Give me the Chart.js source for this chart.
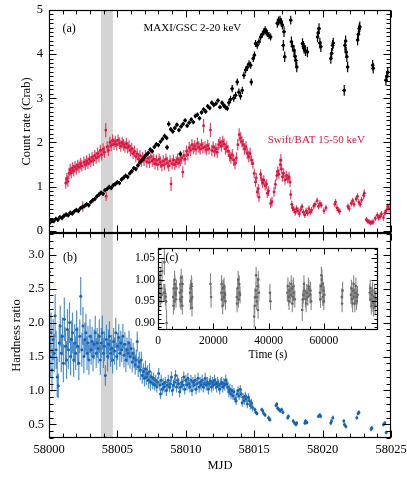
<!DOCTYPE html>
<html lang="en">
<head>
<meta charset="UTF-8">
<title>MAXI / Swift light curve and hardness ratio</title>
<script src="https://cdn.jsdelivr.net/npm/chart.js"></script>
<style>
  body { margin: 0; background: #fff; }
  #wrap { position: relative; width: 407px; height: 488px; }
  canvas { position: absolute; }
</style>
</head>
<body>
<div id="wrap">
  <canvas id="panelA" width="407" height="240" style="left:0;top:0"></canvas>
  <canvas id="panelB" width="407" height="262" style="left:0;top:226px"></canvas>
  <canvas id="panelC" width="290" height="125" style="left:110px;top:240px"></canvas>
</div>

<script>
// days are counted from MJD 58000
const MJD0 = 58000
const band = [58003.8, 58004.67]

// (a) MAXI/GSC 2-20 keV
const maxiDay = [
  0.05,0.20,0.35,0.50,0.65,0.80,0.95,1.10,1.25,1.40,
  1.55,1.70,1.85,2.00,2.15,2.30,2.45,2.60,2.75,2.90,
  3.05,3.20,3.35,3.50,3.65,3.80,3.95,4.10,4.25,4.40,
  4.55,4.70,4.85,5.00,5.15,5.30,5.45,5.60,5.75,5.90,
  6.05,6.20,6.35,6.50,6.65,6.80,6.95,7.10,7.25,7.40,
  7.55,7.70,7.85,8.00,8.15,8.30,8.45,8.60,8.63,8.75,
  8.90,9.05,9.20,9.35,9.50,9.60,9.65,9.80,9.95,10.10,
  10.25,10.40,10.55,10.70,10.85,11.00,11.15,11.30,11.45,11.60,
  11.75,11.90,12.05,12.20,12.35,12.50,12.65,12.78,12.90,13.03,
  13.15,13.27,13.39,13.50,13.64,13.76,13.88,14.00,14.13,14.25,
  14.37,14.50,14.62,14.74,14.79,14.93,15.02,15.10,15.22,15.35,
  15.47,15.60,15.71,15.80,15.88,15.96,16.08,16.20,16.69,16.78,
  16.89,16.98,17.06,17.13,17.18,17.23,17.67,17.72,17.80,17.91,
  17.98,18.04,18.11,18.53,18.60,18.65,18.75,18.89,19.63,19.68,
  19.74,19.80,19.87,20.60,20.66,20.73,20.78,21.58,21.63,21.68,
  21.72,21.77,21.83,22.56,22.62,22.68,22.72,23.66,23.70,24.63,
  24.70,24.76
]
const maxiRate = [
  0.18,0.24,0.22,0.27,0.25,0.31,0.29,0.34,0.37,0.35,
  0.41,0.39,0.44,0.47,0.45,0.51,0.54,0.56,0.60,0.58,
  0.65,0.69,0.72,0.78,0.82,0.86,0.84,0.92,0.95,0.99,
  0.97,1.03,1.06,1.10,1.08,1.16,1.20,1.25,1.22,1.30,
  1.35,1.42,1.40,1.48,1.55,1.60,1.66,1.72,1.76,1.84,
  1.80,1.90,1.96,1.94,2.02,2.08,2.15,2.10,1.89,2.42,
  2.30,2.25,2.33,2.40,2.28,1.74,2.36,2.42,2.50,2.38,
  2.45,2.52,2.46,2.60,2.63,2.55,2.68,2.75,2.70,2.82,
  2.78,2.90,2.85,2.88,2.95,2.80,2.90,2.84,2.80,2.77,
  2.90,2.98,3.22,3.00,3.07,3.37,3.14,3.05,3.18,3.52,
  3.64,3.70,3.78,3.75,3.37,3.90,3.98,4.24,4.20,4.28,
  4.39,4.45,4.51,4.55,4.50,4.47,4.42,4.39,4.70,4.75,
  4.77,4.72,4.66,4.20,4.51,3.94,4.77,4.28,4.18,4.09,
  3.95,3.86,3.71,4.24,4.18,4.13,4.08,4.05,4.39,4.48,
  4.58,4.25,4.17,3.90,4.02,4.20,4.25,3.18,4.20,4.30,
  4.05,3.94,3.71,4.32,4.45,4.58,4.62,3.75,3.68,3.41,
  3.50,3.59
]
const maxiErr = [
  0.05,0.05,0.05,0.05,0.05,0.05,0.05,0.05,0.05,0.05,
  0.05,0.05,0.05,0.05,0.05,0.05,0.05,0.05,0.05,0.05,
  0.05,0.05,0.05,0.05,0.05,0.05,0.05,0.05,0.05,0.05,
  0.05,0.05,0.05,0.05,0.05,0.05,0.05,0.05,0.05,0.05,
  0.05,0.05,0.05,0.05,0.05,0.05,0.05,0.05,0.05,0.05,
  0.05,0.05,0.05,0.05,0.05,0.05,0.05,0.05,0.06,0.06,
  0.05,0.05,0.05,0.05,0.05,0.06,0.05,0.05,0.05,0.05,
  0.05,0.05,0.05,0.05,0.05,0.05,0.05,0.05,0.05,0.05,
  0.05,0.05,0.05,0.05,0.05,0.05,0.05,0.06,0.06,0.06,
  0.08,0.08,0.08,0.08,0.08,0.08,0.08,0.08,0.08,0.08,
  0.08,0.08,0.08,0.08,0.08,0.08,0.08,0.08,0.08,0.08,
  0.08,0.08,0.08,0.08,0.08,0.08,0.08,0.08,0.10,0.10,
  0.10,0.10,0.10,0.12,0.12,0.12,0.10,0.12,0.12,0.12,
  0.12,0.12,0.12,0.12,0.12,0.12,0.12,0.12,0.12,0.12,
  0.12,0.12,0.12,0.12,0.12,0.12,0.12,0.12,0.12,0.12,
  0.12,0.12,0.12,0.12,0.12,0.12,0.12,0.12,0.12,0.12,
  0.12,0.12
]

// (a) Swift/BAT 15-50 keV
const batDay = [
  1.22,1.30,1.38,1.46,1.55,1.63,1.72,1.80,1.90,2.00,
  2.10,2.20,2.30,2.40,2.47,2.55,2.65,2.75,2.85,2.95,
  3.05,3.15,3.25,3.35,3.45,3.55,3.65,3.75,3.85,3.95,
  4.05,4.15,4.18,4.25,4.35,4.45,4.55,4.65,4.75,4.85,
  4.95,5.05,5.15,5.25,5.35,5.45,5.55,5.65,5.75,5.85,
  5.95,6.05,6.15,6.25,6.35,6.45,6.55,6.65,6.75,6.85,
  6.95,7.05,7.15,7.25,7.35,7.45,7.55,7.65,7.75,7.85,
  7.95,8.05,8.15,8.25,8.35,8.45,8.55,8.65,8.75,8.85,
  8.92,9.00,9.10,9.20,9.30,9.40,9.50,9.60,9.70,9.78,
  9.85,9.95,10.05,10.15,10.25,10.35,10.45,10.55,10.65,10.75,
  10.85,10.95,11.05,11.15,11.25,11.30,11.40,11.50,11.60,11.70,
  11.80,11.90,12.00,12.10,12.20,12.30,12.40,12.50,12.60,12.70,
  12.80,12.90,13.00,13.10,13.20,13.30,13.40,13.50,13.60,13.70,
  13.80,13.90,14.00,14.10,14.20,14.30,14.40,14.50,14.60,14.70,
  14.80,14.90,15.00,15.10,15.15,15.22,15.30,15.35,15.47,15.55,
  15.62,15.70,15.80,15.90,15.96,16.05,16.20,16.30,16.45,16.55,
  16.65,16.72,16.80,16.90,16.95,17.00,17.06,17.15,17.25,17.35,
  17.45,17.55,17.62,17.67,17.75,17.80,17.90,18.00,18.10,18.20,
  18.30,18.40,18.50,18.60,18.70,18.80,18.90,19.00,19.10,19.20,
  19.35,19.45,19.60,19.70,19.80,19.90,20.10,20.25,20.90,20.95,
  21.05,21.15,21.25,21.85,21.95,22.10,22.20,22.30,22.45,22.55,
  22.65,22.75,22.85,23.00,23.05,23.20,23.30,23.40,23.50,23.60,
  23.70,23.85,24.00,24.10,24.20,24.30,24.45,24.55,24.65,24.75,
  24.85,24.95
]
const batRate = [
  1.08,1.18,1.12,1.30,1.38,1.32,1.42,1.36,1.45,1.40,
  1.48,1.44,1.52,1.47,0.55,1.55,1.50,1.58,1.53,1.62,
  1.57,1.66,1.60,1.70,1.65,1.75,1.68,1.82,1.72,1.85,
  1.78,2.28,0.78,1.90,1.82,2.00,1.93,2.05,1.96,2.02,
  1.95,2.05,1.98,1.92,2.00,1.95,1.90,1.97,1.88,1.92,
  1.82,1.86,1.75,1.80,1.68,1.74,1.62,1.70,1.58,1.66,
  1.60,1.70,1.56,1.64,1.55,1.68,1.58,1.62,1.52,1.60,
  1.50,1.62,1.55,1.48,1.58,1.50,1.62,1.54,1.47,1.58,
  1.06,1.52,1.60,1.50,1.56,1.62,1.54,1.60,1.65,1.33,
  1.70,1.62,1.80,1.72,1.88,1.82,1.95,1.86,1.92,1.85,
  1.98,1.90,1.85,1.95,1.88,2.38,1.90,1.84,1.93,1.86,
  2.28,1.82,1.90,1.80,1.86,1.78,1.95,2.00,1.92,2.02,
  1.96,1.85,1.90,1.80,1.70,1.65,1.72,1.60,1.52,1.65,
  1.95,2.18,2.10,2.02,1.95,1.85,1.90,1.75,1.68,1.75,
  1.60,1.52,1.30,1.10,1.20,0.88,0.95,0.76,1.28,1.15,
  1.08,1.15,1.02,1.06,0.85,0.90,0.62,0.66,0.88,1.05,
  1.25,1.35,1.28,1.50,1.60,1.40,1.22,1.30,1.15,1.25,
  1.18,1.22,1.10,0.82,0.60,0.52,0.48,0.42,0.50,0.45,
  0.38,0.48,0.55,0.42,0.36,0.45,0.40,0.50,0.42,0.47,
  0.56,0.60,0.68,0.55,0.62,0.58,0.45,0.52,0.60,0.65,
  0.52,0.47,0.44,0.55,0.50,0.62,0.68,0.60,0.72,0.78,
  0.65,0.60,0.70,0.80,0.85,0.25,0.22,0.20,0.18,0.19,
  0.20,0.28,0.35,0.30,0.32,0.38,0.30,0.40,0.45,0.55,
  0.50,0.60
]
const batErr = [
  0.13,0.13,0.13,0.13,0.13,0.13,0.13,0.13,0.13,0.13,
  0.13,0.13,0.13,0.13,0.12,0.13,0.13,0.13,0.13,0.13,
  0.13,0.13,0.13,0.13,0.13,0.13,0.13,0.13,0.13,0.13,
  0.13,0.16,0.10,0.13,0.13,0.13,0.13,0.13,0.13,0.13,
  0.13,0.13,0.13,0.13,0.13,0.13,0.13,0.13,0.13,0.13,
  0.13,0.13,0.13,0.13,0.13,0.13,0.13,0.13,0.13,0.13,
  0.13,0.13,0.13,0.13,0.13,0.13,0.13,0.13,0.13,0.13,
  0.13,0.13,0.13,0.13,0.13,0.13,0.13,0.13,0.13,0.13,
  0.16,0.13,0.13,0.13,0.13,0.13,0.13,0.13,0.13,0.13,
  0.13,0.13,0.13,0.13,0.13,0.13,0.13,0.13,0.13,0.13,
  0.13,0.13,0.13,0.13,0.13,0.16,0.13,0.13,0.13,0.13,
  0.16,0.13,0.13,0.13,0.13,0.13,0.13,0.13,0.13,0.13,
  0.13,0.13,0.13,0.13,0.13,0.13,0.13,0.13,0.13,0.13,
  0.13,0.14,0.13,0.13,0.13,0.13,0.13,0.13,0.13,0.13,
  0.11,0.11,0.11,0.11,0.11,0.11,0.11,0.11,0.11,0.11,
  0.11,0.11,0.11,0.11,0.11,0.11,0.11,0.11,0.11,0.11,
  0.11,0.11,0.11,0.14,0.14,0.11,0.11,0.11,0.11,0.11,
  0.11,0.11,0.11,0.11,0.08,0.08,0.08,0.08,0.08,0.08,
  0.07,0.07,0.07,0.07,0.07,0.07,0.07,0.07,0.07,0.07,
  0.07,0.07,0.07,0.07,0.07,0.07,0.07,0.07,0.07,0.07,
  0.07,0.07,0.07,0.07,0.07,0.07,0.07,0.07,0.07,0.07,
  0.07,0.07,0.07,0.09,0.09,0.06,0.06,0.06,0.06,0.06,
  0.06,0.06,0.07,0.07,0.07,0.07,0.07,0.07,0.07,0.07,
  0.07,0.07
]

// (b) hardness ratio
const hrDay = [
  0.02,0.08,0.15,0.22,0.30,0.38,0.45,0.52,0.60,0.68,
  0.75,0.82,0.90,0.98,1.05,1.12,1.20,1.28,1.35,1.42,
  1.50,1.58,1.65,1.72,1.80,1.88,1.95,2.02,2.10,2.18,
  2.25,2.32,2.40,2.48,2.55,2.62,2.70,2.78,2.85,2.92,
  3.00,3.08,3.15,3.22,3.30,3.38,3.45,3.52,3.60,3.68,
  3.75,3.82,3.90,3.98,4.05,4.12,4.20,4.28,4.35,4.42,
  4.50,4.58,4.65,4.72,4.80,4.88,4.95,5.02,5.10,5.18,
  5.25,5.32,5.40,5.48,5.55,5.62,5.70,5.78,5.85,5.92,
  6.00,6.08,6.15,6.22,6.30,6.38,6.45,6.52,6.60,6.68,
  6.75,6.82,6.90,6.98,7.05,7.12,7.20,7.28,7.35,7.42,
  7.50,7.58,7.65,7.72,7.80,7.88,7.95,8.02,8.10,8.15,
  8.20,8.28,8.35,8.42,8.50,8.58,8.65,8.72,8.80,8.88,
  8.95,9.02,9.10,9.18,9.25,9.32,9.40,9.48,9.55,9.62,
  9.70,9.78,9.85,9.92,10.00,10.08,10.15,10.22,10.30,10.38,
  10.45,10.52,10.60,10.68,10.75,10.82,10.90,10.98,11.05,11.12,
  11.20,11.28,11.35,11.42,11.50,11.58,11.65,11.72,11.80,11.88,
  11.95,12.02,12.10,12.18,12.25,12.32,12.40,12.48,12.55,12.62,
  12.70,12.78,12.85,12.92,13.00,13.08,13.15,13.22,13.30,13.38,
  13.45,13.52,13.60,13.68,13.75,13.82,13.90,13.98,14.05,14.12,
  14.20,14.28,14.35,14.42,14.50,14.58,14.65,14.72,14.80,14.88,
  15.05,15.12,15.20,15.55,15.62,15.70,15.80,16.05,16.10,16.15,
  16.60,16.65,16.72,16.80,16.90,17.00,17.10,17.45,17.50,17.85,
  17.95,18.05,18.10,18.70,18.75,18.85,19.70,19.80,19.85,20.60,
  20.65,20.75,21.55,21.60,21.70,22.50,22.60,22.65,23.55,23.60,
  24.45,24.55,24.65
]
const hrVal = [
  2.75,1.50,1.85,1.30,1.75,1.55,2.10,1.60,1.20,1.07,
  1.70,1.95,1.55,1.80,1.40,2.05,1.65,1.45,1.90,1.60,
  2.00,1.50,1.75,1.85,1.45,1.70,1.55,1.90,1.65,1.40,
  1.80,2.39,1.60,1.95,1.50,1.75,1.85,1.55,1.70,1.45,
  1.80,1.60,1.72,1.50,1.68,1.85,1.55,1.70,1.62,1.80,
  1.45,1.70,1.85,1.55,1.65,1.22,1.75,1.50,1.68,1.80,
  1.55,1.62,1.45,1.72,1.58,1.85,1.50,1.65,1.78,1.55,
  1.70,1.60,1.80,1.52,1.68,1.45,1.60,1.55,1.70,1.50,
  1.62,1.42,1.55,1.48,1.38,1.45,1.72,1.35,1.42,1.30,
  1.45,1.22,1.28,1.18,1.32,1.20,1.25,1.15,1.28,1.12,
  1.20,1.10,1.18,1.08,1.15,1.05,1.12,1.25,1.08,0.95,
  1.15,1.02,1.10,1.05,1.12,1.00,1.08,1.15,1.05,1.10,
  1.20,1.00,1.08,1.12,1.22,1.05,1.15,1.10,0.98,1.05,
  1.12,1.08,1.20,1.02,1.15,1.08,1.18,1.10,1.05,1.15,
  1.00,1.12,1.08,1.15,1.02,1.10,1.18,1.05,1.12,1.08,
  1.15,1.05,1.10,1.18,1.08,1.12,1.02,1.10,1.14,1.05,
  1.12,1.08,1.15,1.10,1.05,1.12,1.08,1.02,1.10,1.12,
  1.05,1.10,1.08,1.15,1.10,1.05,0.98,1.02,0.95,1.00,
  0.92,0.98,0.88,0.85,0.95,1.00,0.92,1.02,0.95,0.82,
  0.90,0.85,0.92,0.88,0.80,0.90,0.85,0.78,0.82,0.75,
  0.72,0.68,0.66,0.72,0.70,0.66,0.64,0.60,0.58,0.57,
  0.78,0.80,0.74,0.72,0.70,0.72,0.68,0.60,0.62,0.55,
  0.52,0.50,0.52,0.52,0.55,0.53,0.62,0.64,0.62,0.52,
  0.55,0.60,0.55,0.50,0.47,0.60,0.66,0.68,0.43,0.45,
  0.50,0.52,0.38
]
const hrErr = [
  0.50,0.30,0.30,0.32,0.30,0.28,0.32,0.28,0.30,0.18,
  0.28,0.30,0.28,0.28,0.28,0.32,0.28,0.28,0.30,0.28,
  0.30,0.28,0.28,0.30,0.25,0.28,0.25,0.28,0.28,0.25,
  0.25,0.28,0.25,0.28,0.25,0.25,0.28,0.25,0.25,0.22,
  0.25,0.22,0.22,0.22,0.22,0.25,0.22,0.22,0.22,0.25,
  0.22,0.22,0.25,0.22,0.22,0.15,0.22,0.22,0.22,0.22,
  0.20,0.20,0.20,0.20,0.20,0.22,0.20,0.20,0.20,0.20,
  0.18,0.18,0.18,0.18,0.18,0.18,0.18,0.18,0.18,0.18,
  0.15,0.15,0.15,0.15,0.15,0.15,0.15,0.15,0.15,0.15,
  0.12,0.12,0.12,0.12,0.12,0.12,0.12,0.12,0.12,0.12,
  0.08,0.08,0.08,0.08,0.08,0.08,0.08,0.08,0.08,0.08,
  0.08,0.08,0.08,0.08,0.08,0.08,0.08,0.08,0.08,0.08,
  0.08,0.08,0.08,0.08,0.08,0.08,0.08,0.08,0.08,0.08,
  0.08,0.08,0.08,0.08,0.08,0.08,0.08,0.08,0.08,0.08,
  0.08,0.08,0.08,0.08,0.08,0.08,0.08,0.08,0.08,0.08,
  0.08,0.08,0.08,0.08,0.08,0.08,0.08,0.08,0.08,0.08,
  0.08,0.08,0.08,0.08,0.08,0.08,0.08,0.08,0.08,0.08,
  0.08,0.08,0.08,0.08,0.08,0.08,0.08,0.08,0.08,0.08,
  0.06,0.06,0.06,0.06,0.06,0.06,0.06,0.06,0.06,0.06,
  0.06,0.06,0.06,0.06,0.06,0.06,0.06,0.06,0.06,0.06,
  0.03,0.03,0.03,0.03,0.03,0.03,0.03,0.03,0.03,0.03,
  0.03,0.03,0.03,0.03,0.03,0.03,0.03,0.03,0.03,0.03,
  0.03,0.03,0.03,0.03,0.03,0.03,0.03,0.03,0.03,0.03,
  0.03,0.03,0.03,0.03,0.03,0.03,0.03,0.03,0.03,0.03,
  0.03,0.03,0.03
]

// (c) inset, seconds
const insetTime = [
  200,450,700,950,1200,1500,2100,2300,2500,2700,
  2900,3100,5500,5700,5900,6100,6300,6500,6700,7900,
  8100,8300,8500,8700,8900,11600,11800,12000,12200,12400,
  19000,19200,22900,23200,23500,23800,24100,24400,28500,28800,
  29100,29400,29700,34800,35100,35400,35700,36000,36300,36500,
  40500,40700,46800,47200,47600,48000,48400,48800,49200,49500,
  52200,52600,53000,53400,53800,54200,54600,55000,55400,58600,
  59000,59300,59600,59900,60200,66500,66800,69800,70200,70600,
  71000,71400,71800,72200,76600,77000,77400,77800,78200,78600,
  350,850,1350,5600,6000,6400,8000,8400,8800,11700,
  12100,12300,23000,23400,23900,24300,28600,29000,29500,35000,
  35500,35900,36200,47000,47400,48200,48600,49000,52400,52800,
  53600,54400,55200,58800,59100,59500,60000,66600,70000,70400,
  70800,71200,71600,72000,76800,77200,77600,78000,78400,78800
]
const insetVal = [
  0.990,0.970,1.000,0.960,0.980,1.020,0.970,1.040,0.970,0.960,
  0.950,0.900,0.960,0.980,0.950,0.990,0.970,0.955,0.980,0.970,
  0.990,0.950,0.975,0.960,0.990,0.970,0.980,0.955,0.985,0.960,
  0.990,0.960,0.970,0.955,0.980,0.960,0.970,0.950,0.960,0.980,
  0.955,0.990,0.965,0.915,0.960,0.975,0.950,0.985,1.000,0.970,
  0.970,0.950,0.970,0.960,0.975,0.965,0.980,0.960,0.970,0.955,
  0.930,0.965,0.975,0.955,0.970,0.960,0.980,0.965,0.950,0.970,
  0.985,1.000,0.960,0.975,0.965,0.960,0.975,0.965,0.955,0.975,
  0.960,0.970,0.950,0.965,0.970,0.955,0.965,0.945,0.960,0.940,
  0.950,1.010,0.965,0.940,1.000,0.965,0.955,1.005,0.940,0.950,
  0.990,0.935,0.990,0.940,0.985,0.965,0.945,1.000,0.970,0.940,
  1.010,0.960,0.930,0.985,0.950,0.990,0.945,0.985,0.955,0.990,
  0.945,0.985,0.975,0.955,1.010,0.990,0.950,0.945,0.980,0.945,
  0.990,0.945,0.985,0.960,0.980,0.940,0.975,0.935,0.970,0.955
]
const insetErr = [
  0.020,0.020,0.020,0.020,0.020,0.025,0.020,0.030,0.020,0.020,
  0.020,0.030,0.020,0.020,0.020,0.020,0.020,0.020,0.020,0.020,
  0.020,0.020,0.020,0.020,0.020,0.020,0.020,0.020,0.020,0.020,
  0.025,0.025,0.020,0.020,0.020,0.020,0.020,0.020,0.020,0.020,
  0.020,0.020,0.020,0.025,0.020,0.020,0.020,0.020,0.020,0.020,
  0.020,0.020,0.020,0.020,0.020,0.020,0.020,0.020,0.020,0.020,
  0.025,0.020,0.020,0.020,0.020,0.020,0.020,0.020,0.020,0.020,
  0.020,0.025,0.020,0.020,0.020,0.020,0.020,0.020,0.020,0.020,
  0.020,0.020,0.020,0.020,0.020,0.020,0.020,0.020,0.020,0.020,
  0.020,0.020,0.020,0.020,0.020,0.020,0.020,0.020,0.020,0.020,
  0.020,0.020,0.020,0.020,0.020,0.020,0.020,0.020,0.020,0.020,
  0.020,0.020,0.020,0.020,0.020,0.020,0.020,0.020,0.020,0.020,
  0.020,0.020,0.020,0.020,0.020,0.020,0.020,0.020,0.020,0.020,
  0.020,0.020,0.020,0.020,0.020,0.020,0.020,0.020,0.020,0.020
]

const mjdTicks = [58000, 58005, 58010, 58015, 58020, 58025]
const rateTicks = [0, 1, 2, 3, 4, 5]
const hrTicks = [0.5, 1.0, 1.5, 2.0, 2.5, 3.0]
const insetTimeTicks = [0, 20000, 40000, 60000]
const insetValTicks = [0.90, 0.95, 1.00, 1.05]

function points(xs, ys, x0) {
  return xs.map((v, i) => ({ x: x0 + v, y: ys[i] }))
}

function stepValues(min, max, step) {
  const out = []
  for (let k = Math.ceil(min / step - 1e-6); k * step <= max + 1e-6; k++) out.push(k * step)
  return out
}

// error bars, drawn just before each dataset's points
const errorBars = {
  id: 'errorBars',
  beforeDatasetDraw(chart, args) {
    const ds = chart.data.datasets[args.index]
    if (!ds.errY) return
    const { ctx, chartArea: a, scales: { x, y } } = chart
    ctx.save()
    ctx.beginPath()
    ctx.rect(a.left, a.top, a.width, a.height)
    ctx.clip()
    ctx.strokeStyle = ds.errColor
    ctx.lineWidth = ds.errWidth || 1
    ctx.beginPath()
    ds.data.forEach((p, i) => {
      const px = x.getPixelForValue(p.x)
      const py = y.getPixelForValue(p.y)
      const e = ds.errY[i]
      ctx.moveTo(px, y.getPixelForValue(p.y - e))
      ctx.lineTo(px, y.getPixelForValue(p.y + e))
      if (ds.errX) {
        ctx.moveTo(x.getPixelForValue(p.x - ds.errX), py)
        ctx.lineTo(x.getPixelForValue(p.x + ds.errX), py)
      }
    })
    ctx.stroke()
    ctx.restore()
  }
}

// frame with inward ticks on all four sides, shaded band, text notes
const frameTicks = {
  id: 'frameTicks',
  beforeDatasetsDraw(chart, args, o) {
    const { ctx, chartArea: a, scales: { x } } = chart
    ctx.save()
    if (o.fill) {
      ctx.fillStyle = o.fill
      ctx.fillRect(a.left, a.top, a.width, a.height)
    }
    if (o.band) {
      const x0 = x.getPixelForValue(o.band[0])
      const x1 = x.getPixelForValue(o.band[1])
      ctx.fillStyle = '#d4d4d4'
      ctx.fillRect(x0, a.top, x1 - x0, a.height)
    }
    ctx.restore()
  },
  afterDraw(chart, args, o) {
    const { ctx, chartArea: a, scales: { x, y } } = chart
    const L = Math.round(a.left) + 0.5, R = Math.round(a.right) - 0.5
    const T = Math.round(a.top) + 0.5, B = Math.round(a.bottom) - 0.5
    const near = (v, list) => list.some(m => Math.abs(m - v) < 1e-6)
    ctx.save()
    ctx.strokeStyle = '#000'
    ctx.lineWidth = 1
    ctx.beginPath()
    stepValues(x.min, x.max, o.xStep).forEach(v => {
      const px = Math.round(x.getPixelForValue(v)) + 0.5
      const len = near(v, o.xMajor) ? o.major : o.minor
      ctx.moveTo(px, B); ctx.lineTo(px, B - len)
      ctx.moveTo(px, T); ctx.lineTo(px, T + len)
    })
    stepValues(y.min, y.max, o.yStep).forEach(v => {
      const py = Math.round(y.getPixelForValue(v)) + 0.5
      const len = near(v, o.yMajor) ? o.major : o.minor
      ctx.moveTo(L, py); ctx.lineTo(L + len, py)
      ctx.moveTo(R, py); ctx.lineTo(R - len, py)
    })
    ctx.stroke()
    ctx.lineWidth = 1.2
    ctx.strokeRect(L, T, R - L, B - T)
    ;(o.notes || []).forEach(n => {
      ctx.font = n.size + 'px "Liberation Serif"'
      ctx.fillStyle = n.color || '#000'
      ctx.textAlign = 'center'
      ctx.textBaseline = 'middle'
      ctx.fillText(n.text, x.getPixelForValue(n.x), y.getPixelForValue(n.y))
    })
    ctx.restore()
  }
}

Chart.register(errorBars, frameTicks)
Chart.defaults.font.family = '"Liberation Serif", "Times New Roman", serif'
Chart.defaults.font.size = 12.5
Chart.defaults.color = '#000'

function fixWidth(w) {
  return s => { s.width = w; s.paddingTop = 0; s.paddingBottom = 0 }
}
function fixHeight(h) {
  return s => { s.height = h; s.paddingLeft = 0; s.paddingRight = 0 }
}
function useTicks(list) {
  return s => { s.ticks = list.map(v => ({ value: v })) }
}
const noGrid = { display: false, drawTicks: false }
const plain = { legend: { display: false }, tooltip: { enabled: false } }

// panel (a)
new Chart(document.getElementById('panelA'), {
  type: 'scatter',
  data: {
    datasets: [
      {
        data: points(maxiDay, maxiRate, MJD0),
        backgroundColor: '#000', pointRadius: 1.7, borderWidth: 0,
        errY: maxiErr, errX: 0.12, errColor: '#000', errWidth: 1.2
      },
      {
        data: points(batDay, batRate, MJD0),
        backgroundColor: '#d8163f', pointRadius: 1.4, borderWidth: 0,
        errY: batErr, errX: 0.05, errColor: 'rgba(222,35,75,0.85)', errWidth: 1.2
      }
    ]
  },
  options: {
    responsive: false, animation: false, events: [],
    layout: { padding: { left: 0, right: 16, top: 10, bottom: 7 } },
    plugins: {
      ...plain,
      frameTicks: {
        xMajor: mjdTicks, xStep: 1, yMajor: rateTicks, yStep: 0.1, major: 7, minor: 4,
        band: band,
        notes: [
          { text: '(a)', x: 58001.47, y: 4.57, size: 12 },
          { text: 'MAXI/GSC 2-20 keV', x: 58010.48, y: 4.59, size: 11 },
          { text: 'Swift/BAT 15-50 keV', x: 58019.54, y: 2.06, size: 11, color: '#d8163f' }
        ]
      }
    },
    scales: {
      x: { type: 'linear', min: 58000, max: 58025, display: false },
      y: {
        type: 'linear', min: -0.05, max: 5,
        afterBuildTicks: useTicks(rateTicks), afterFit: fixWidth(49),
        grid: noGrid, border: { display: false },
        ticks: { padding: 6, autoSkip: false, callback: v => String(v) },
        title: { display: true, text: 'Count rate (Crab)', padding: { top: 19.5, bottom: 0 } }
      }
    }
  }
})

// panel (b)
new Chart(document.getElementById('panelB'), {
  type: 'scatter',
  data: {
    datasets: [
      {
        data: points(hrDay, hrVal, MJD0),
        backgroundColor: '#1a63ad', pointRadius: 1.5, borderWidth: 0,
        errY: hrErr, errColor: 'rgba(50,125,195,0.85)', errWidth: 1.2
      }
    ]
  },
  options: {
    responsive: false, animation: false, events: [],
    layout: { padding: { left: 0, right: 16, top: 7, bottom: 0 } },
    plugins: {
      ...plain,
      frameTicks: {
        xMajor: mjdTicks, xStep: 1, yMajor: hrTicks, yStep: 0.1, major: 7, minor: 4,
        band: band,
        notes: [{ text: '(b)', x: 58001.54, y: 2.95, size: 12 }]
      }
    },
    scales: {
      x: {
        type: 'linear', min: 58000, max: 58025,
        afterBuildTicks: useTicks(mjdTicks), afterFit: fixHeight(50),
        grid: noGrid, border: { display: false },
        ticks: { padding: 4, autoSkip: false, maxRotation: 0, callback: v => String(v) },
        title: { display: true, text: 'MJD', padding: { top: 0, bottom: 15 } }
      },
      y: {
        type: 'linear', min: 0.3, max: 3.32,
        afterBuildTicks: useTicks(hrTicks), afterFit: fixWidth(49),
        grid: noGrid, border: { display: false },
        ticks: { padding: 5, autoSkip: false, callback: v => v.toFixed(1) },
        title: { display: true, text: 'Hardness ratio', padding: { top: 9.5, bottom: 0 } }
      }
    }
  }
})

// inset (c)
new Chart(document.getElementById('panelC'), {
  type: 'scatter',
  data: {
    datasets: [
      {
        data: points(insetTime, insetVal, 0),
        backgroundColor: '#666', pointRadius: 1.3, borderWidth: 0,
        errY: insetErr, errX: 250, errColor: 'rgba(115,115,115,0.85)', errWidth: 1.1
      }
    ]
  },
  options: {
    responsive: false, animation: false, events: [],
    layout: { padding: { left: 0, right: 22, top: 8, bottom: 0 } },
    plugins: {
      ...plain,
      frameTicks: {
        xMajor: insetTimeTicks, xStep: 5000, yMajor: insetValTicks, yStep: 0.01, major: 6, minor: 3,
        fill: '#fff',
        notes: [{ text: '(c)', x: 5065, y: 1.05, size: 11.5 }]
      }
    },
    scales: {
      x: {
        type: 'linear', min: 0, max: 79600,
        afterBuildTicks: useTicks(insetTimeTicks), afterFit: fixHeight(35),
        grid: noGrid, border: { display: false },
        ticks: { padding: 4, autoSkip: false, maxRotation: 0, font: { size: 11.5 }, callback: v => String(v) },
        title: { display: true, text: 'Time (s)', font: { size: 11.5 }, padding: { top: 0, bottom: 3 } }
      },
      y: {
        type: 'linear', min: 0.884, max: 1.073,
        afterBuildTicks: useTicks(insetValTicks), afterFit: fixWidth(48),
        grid: noGrid, border: { display: false },
        ticks: { padding: 3, autoSkip: false, font: { size: 11.5 }, callback: v => v.toFixed(2) }
      }
    }
  }
})
</script>
</body>
</html>
